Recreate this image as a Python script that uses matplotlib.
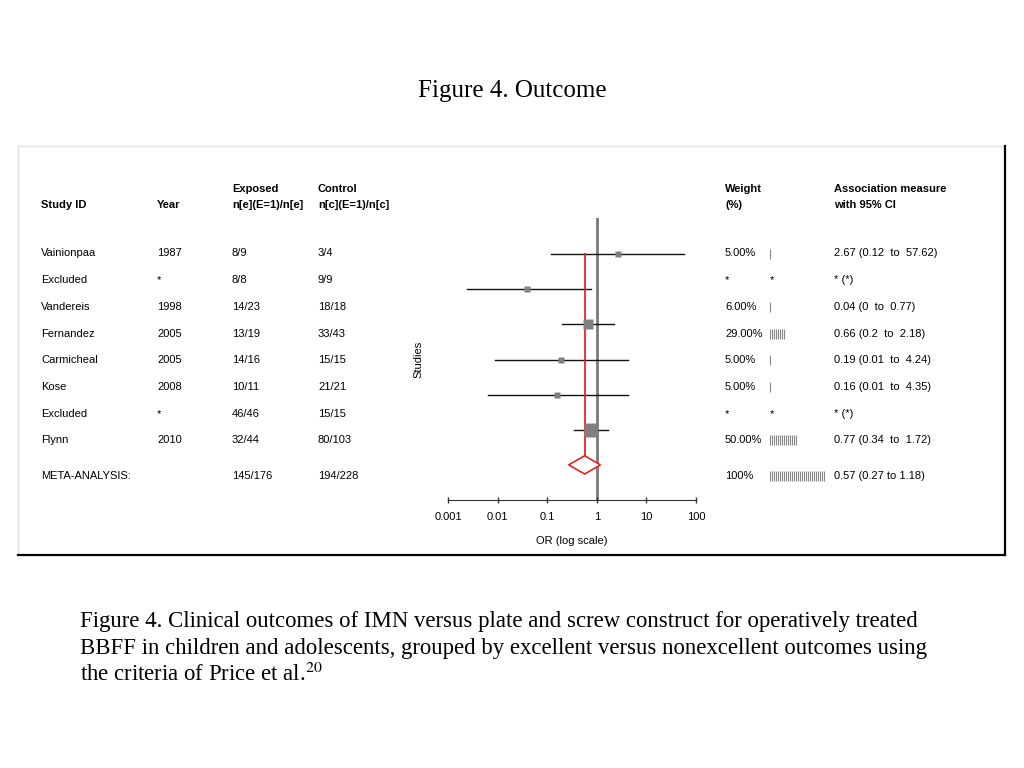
import numpy as np
import matplotlib
matplotlib.use('Agg')
import matplotlib.pyplot as plt

plt.rcParams['font.family'] = ['Liberation Sans', 'DejaVu Sans']
plt.rcParams['mathtext.fontset'] = 'stix'

# table data
study = ['Vainionpaa', 'Excluded', 'Vandereis', 'Fernandez', 'Carmicheal', 'Kose', 'Excluded', 'Flynn']
year = ['1987', '*', '1998', '2005', '2005', '2008', '*', '2010']
exposed = ['8/9', '8/8', '14/23', '13/19', '14/16', '10/11', '46/46', '32/44']
control = ['3/4', '9/9', '18/18', '33/43', '15/15', '21/21', '15/15', '80/103']
weight = [5, None, 6, 29, 5, 5, None, 50]
odds = [2.67, None, 0.04, 0.66, 0.19, 0.16, None, 0.77]
ci_lo = [0.12, None, 0.0024, 0.2, 0.0088, 0.0063, None, 0.34]
ci_hi = [57.62, None, 0.77, 2.18, 4.24, 4.35, None, 1.72]
assoc = ['2.67 (0.12  to  57.62)', '* (*)', '0.04 (0  to  0.77)', '0.66 (0.2  to  2.18)',
         '0.19 (0.01  to  4.24)', '0.16 (0.01  to  4.35)', '* (*)', '0.77 (0.34  to  1.72)']

meta_exp = '145/176'
meta_ctl = '194/228'
meta_or = 0.57
meta_lo = 0.27
meta_hi = 1.18
meta_txt = '0.57 (0.27 to 1.18)'

xticks = [0.001, 0.01, 0.1, 1, 10, 100]
xticklabels = ['0.001', '0.01', '0.1', '1', '10', '100']

W, H = 1024, 768
fig = plt.figure(figsize=(W / 100, H / 100), dpi=100)

# background axes in pixel coordinates for slide text / table
bg = fig.add_axes([0, 0, 1, 1])
bg.set_xlim(0, W)
bg.set_ylim(H, 0)
bg.axis('off')

serif = ['Liberation Serif', 'DejaVu Serif']
bg.text(512, 91, 'Figure 4. Outcome', family=serif, fontsize=18, ha='center', va='center')

caption = ['Figure 4. Clinical outcomes of IMN versus plate and screw construct for operatively treated',
           'BBFF in children and adolescents, grouped by excellent versus nonexcellent outcomes using',
           'the criteria of Price et al.$^{20}$']
for i, line in enumerate(caption):
    bg.text(80, 627 + 27 * i, line, family=serif, fontsize=16.4, ha='left', va='baseline')

# panel frame
bg.plot([18, 1005], [146, 146], color='#e0e0e0', lw=1)
bg.plot([18, 18], [146, 554], color='#e0e0e0', lw=1)
bg.plot([1005, 1005], [146, 555], color='black', lw=1.6)
bg.plot([18, 1005], [555, 555], color='black', lw=1.6)

fs = 8
cols = {'study': 41, 'year': 157, 'exp': 232, 'ctl': 318, 'w': 725, 'bar': 770, 'assoc': 834}

# headers
bg.text(cols['study'], 205, 'Study ID', fontsize=fs, weight='bold', va='center')
bg.text(cols['year'], 205, 'Year', fontsize=fs, weight='bold', va='center')
bg.text(cols['exp'], 189, 'Exposed', fontsize=fs, weight='bold', va='center')
bg.text(cols['exp'], 205, 'n[e](E=1)/n[e]', fontsize=fs, weight='bold', va='center')
bg.text(cols['ctl'], 189, 'Control', fontsize=fs, weight='bold', va='center')
bg.text(cols['ctl'], 205, 'n[c](E=1)/n[c]', fontsize=fs, weight='bold', va='center')
bg.text(cols['w'], 189, 'Weight', fontsize=fs, weight='bold', va='center')
bg.text(cols['w'], 205, '(%)', fontsize=fs, weight='bold', va='center')
bg.text(cols['assoc'], 189, 'Association measure', fontsize=fs, weight='bold', va='center')
bg.text(cols['assoc'], 205, 'with 95% CI', fontsize=fs, weight='bold', va='center')


def weight_bars(y, w):
    n = max(1, int(w * 0.29))
    xs = cols['bar'] + 2 * np.arange(n)
    bg.vlines(xs, y - 5, y + 5, color='#888888', lw=0.8)


row_y = 253.5 + 26.7 * np.arange(len(study))
for i, y in enumerate(row_y):
    bg.text(cols['study'], y, study[i], fontsize=fs, va='center')
    bg.text(cols['year'], y, year[i], fontsize=fs, va='center')
    bg.text(cols['exp'], y, exposed[i], fontsize=fs, va='center')
    bg.text(cols['ctl'], y, control[i], fontsize=fs, va='center')
    if weight[i] is None:
        bg.text(cols['w'], y, '*', fontsize=fs, va='center')
        bg.text(cols['bar'], y, '*', fontsize=fs, va='center')
    else:
        bg.text(cols['w'], y, '%.2f%%' % weight[i], fontsize=fs, va='center')
        weight_bars(y, weight[i])
    bg.text(cols['assoc'], y, assoc[i], fontsize=fs, va='center')

ym = 476
bg.text(cols['study'], ym, 'META-ANALYSIS:', fontsize=fs, va='center')
bg.text(cols['exp'], ym, meta_exp, fontsize=fs, va='center')
bg.text(cols['ctl'], ym, meta_ctl, fontsize=fs, va='center')
bg.text(cols['w'], ym, '100%', fontsize=fs, va='center')
weight_bars(ym, 100)
bg.text(cols['assoc'], ym, meta_txt, fontsize=fs, va='center')

# forest plot axes
left, right, top, bottom = 448, 696, 218, 500
ax = fig.add_axes([left / W, 1 - bottom / H, (right - left) / W, (bottom - top) / H])
ax.patch.set_alpha(0)
ax.set_xscale('log')
ax.set_xlim(0.001, 100)
ax.set_ylim(7.0, -1.03)

inc = [i for i in range(len(study)) if odds[i] is not None]
pos = np.arange(len(inc))
for p, i in zip(pos, inc):
    ax.plot([ci_lo[i], ci_hi[i]], [p, p], color='#111111', lw=1, zorder=2)
    ms = (4.2 + 0.19 * weight[i]) * 0.72
    ax.plot(odds[i], p, marker='s', ms=ms, color='#808080', mec='none', zorder=4)

mp = len(inc)
ax.axvline(1, color='#7a7a7a', lw=2, zorder=1)
ax.plot([meta_or, meta_or], [0, mp - 0.26], color='#ee1111', lw=1.2, zorder=3)
ax.fill([meta_lo, meta_or, meta_hi, meta_or], [mp, mp - 0.26, mp, mp + 0.26],
        facecolor='white', edgecolor='#ee1111', lw=1.1, zorder=5)

for s in ['top', 'right', 'left']:
    ax.spines[s].set_visible(False)
ax.spines['bottom'].set_color('#333333')
ax.set_yticks([])
ax.set_xticks(xticks)
ax.set_xticklabels(xticklabels)
ax.minorticks_off()
ax.tick_params(axis='x', direction='inout', length=5, width=1, labelsize=fs, pad=6, color='#333333')
ax.set_xlabel('OR (log scale)', fontsize=fs, labelpad=10)
ax.set_ylabel('Studies', fontsize=fs)
ax.yaxis.set_label_coords(-0.1, 0.5)

fig.savefig('out.png', dpi=100)
